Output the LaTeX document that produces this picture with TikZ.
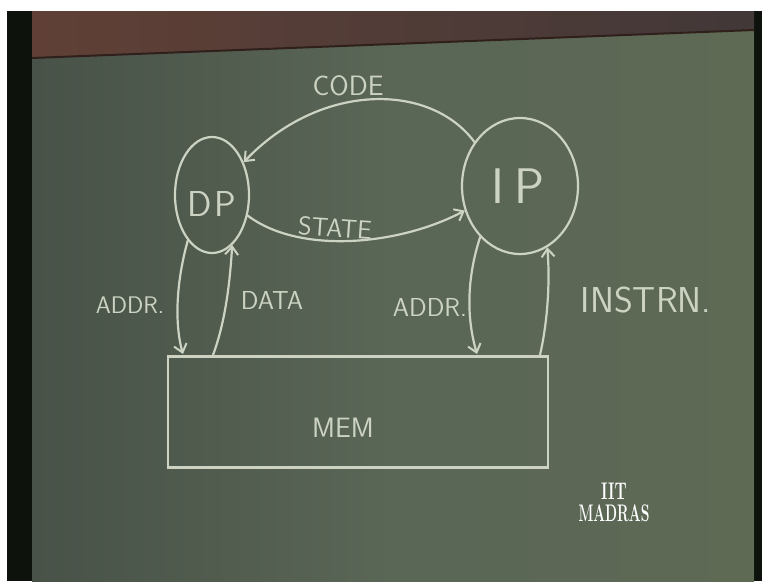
\documentclass[tikz,border=0pt]{standalone}
\usetikzlibrary{arrows.meta,shapes.geometric,calc}
\definecolor{chalk}{RGB}{205,211,194}
\definecolor{boardL}{RGB}{72,82,72}
\definecolor{boardM}{RGB}{90,102,86}
\definecolor{boardR}{RGB}{94,106,84}
\definecolor{ledge}{RGB}{96,64,54}
\definecolor{ledgeR}{RGB}{66,56,56}
\definecolor{edge}{RGB}{14,18,12}
\begin{document}
\begin{tikzpicture}[x=1pt,y=-1pt,
  chalkline/.style={draw=chalk,line width=2.2pt,line cap=round},
  arr/.style={chalkline,-{Straight Barb[length=8pt,width=13pt,line width=2pt]}},
  lbl/.style={text=chalk,font=\sffamily\fontsize{#1}{#1}\selectfont,inner sep=0pt},
  lbl/.default=26]
\useasboundingbox (0,0) rectangle (762,581);
% background
\fill[white] (0,0) rectangle (762,581);
\fill[edge] (7,11) rectangle (762,581);
\shade[left color=boardL,right color=boardR,middle color=boardM] (32,30) rectangle (754,581);
\fill[edge,opacity=0.5] (754,30) rectangle (762,581);
% ledge
\shade[left color=ledge,right color=ledgeR] (32,11) -- (754,11) -- (754,30) -- (32,58) -- cycle;
\draw[black!50!ledge,line width=2pt] (32,58) -- (754,30);
% nodes
\node[chalkline,ellipse,minimum width=74pt,minimum height=116pt] (DP) at (212,195) {};
\node[lbl=36] at (212,204) {D\hspace{3pt}P};
\node[chalkline,ellipse,minimum width=116pt,minimum height=136pt] (IP) at (520,186) {};
\node[lbl=50] at (518,186) {I\hspace{10pt}P};
\node[chalkline,rectangle,minimum width=380pt,minimum height=111pt] (MEM) at (358,412) {};
\node[lbl=28] at (343,428) {MEM};
% end points on memory
\coordinate (m1) at (183,354);
\coordinate (m2) at (213,355);
\coordinate (m3) at (477,354);
\coordinate (m4) at (540,355);
% connectors
\draw[arr] (IP.136) .. controls (430,82) and (320,82) .. (DP.46);
\draw[arr] (DP.-30) .. controls (300,255) and (400,245) .. (IP.204);
\draw[arr] (DP.242) .. controls (174,290) and (176,330) .. (m1);
\draw[arr] (m2) .. controls (226,320) and (230,280) .. (DP.292);
\draw[arr] (IP.232) .. controls (463,290) and (470,330) .. (m3);
\draw[arr] (m4) .. controls (548,320) and (550,280) .. (IP.294);
% labels
\node[lbl=28] at (348,86) {CODE};
\node[lbl=26,rotate=-4] at (335,228) {STATE};
\node[lbl=24] at (130,305) {ADDR.};
\node[lbl=26] at (272,300) {DATA};
\node[lbl=26] at (430,307) {ADDR.};
\node[lbl=36] at (646,300) {INSTRN.};
% logo
\node[text=white,font=\bfseries\fontsize{24}{24}\selectfont,inner sep=0pt] at (614,491) {\scalebox{0.65}[1]{IIT}};
\node[text=white,font=\bfseries\fontsize{24}{24}\selectfont,inner sep=0pt] at (614,513) {\scalebox{0.58}[1]{MADRAS}};
\end{tikzpicture}
\end{document}
